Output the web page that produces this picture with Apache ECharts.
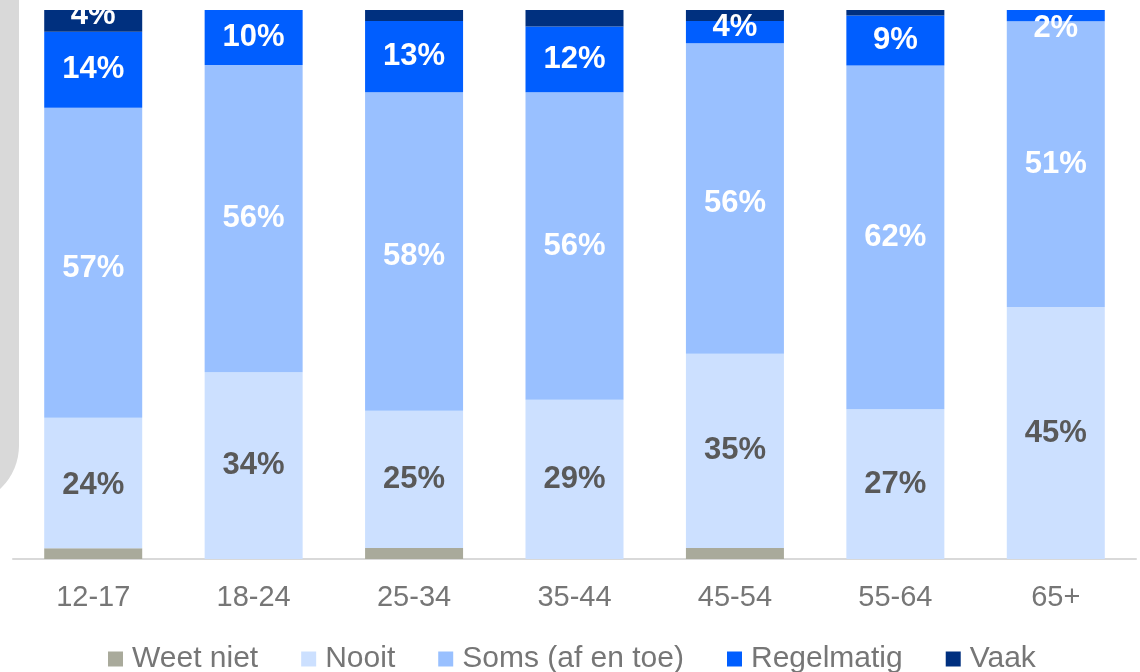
<!DOCTYPE html>
<html>
<head>
<meta charset="utf-8">
<script src="https://cdn.jsdelivr.net/npm/echarts@6/dist/echarts.min.js"></script>
<style>
html,body{margin:0;padding:0;background:#fff;}
#c{width:1140px;height:672px;}
</style>
</head>
<body>
<div id="c"></div>
<script>
const categories = ['12-17','18-24','25-34','35-44','45-54','55-64','65+'];
const weetNiet   = [2, 0, 2, 0, 2, 0, 0];
const nooit      = [24, 34, 25, 29, 35, 27, 45];
const soms       = [57, 56, 58, 56, 56, 62, 51];
const regelmatig = [14, 10, 13, 12, 4, 9, 2];
const vaak       = [4, 0, 2, 3, 2, 1, 0];

const seriesDefs = [
  {name:'Weet niet', data:weetNiet, color:'#a9aa9b', labelColor:'#ffffff', minLabel:Infinity},
  {name:'Nooit', data:nooit, color:'#cce0ff', labelColor:'#595959', minLabel:1},
  {name:'Soms (af en toe)', data:soms, color:'#99c0ff', labelColor:'#ffffff', minLabel:1},
  {name:'Regelmatig', data:regelmatig, color:'#005eff', labelColor:'#ffffff', minLabel:1},
  {name:'Vaak', data:vaak, color:'#00307f', labelColor:'#ffffff', minLabel:4}
];
const labelOffsets = {'Vaak|0':[0,-5], 'Regelmatig|4':[0,-5], 'Regelmatig|6':[0,13], 'Soms (af en toe)|0':[0,6], 'Soms (af en toe)|2':[0,5], 'Soms (af en toe)|4':[0,5], 'Nooit|0':[0,3]};

const totals = categories.map((c,i)=>seriesDefs.reduce((s,d)=>s+d.data[i],0));

const series = seriesDefs.map(d=>({
  name:d.name,
  type:'bar',
  stack:'total',
  barWidth:98,
  itemStyle:{color:d.color},
  label:{
    show:true,
    position:'inside',
    color:d.labelColor,
    fontSize:31,
    fontWeight:'bold',
    fontFamily:'Liberation Sans, Arial, sans-serif',
    formatter:p=>p.data.raw+'%'
  },
  data:d.data.map((v,i)=>({
    value:v/totals[i]*100,
    raw:v,
    label:{show: v>=d.minLabel, offset: labelOffsets[d.name+'|'+i] || [0,0]}
  }))
}));

const chart = echarts.init(document.getElementById('c'));
chart.setOption({
  animation:false,
  graphic:[{
    type:'rect', z:-10,
    shape:{x:-100, y:-100, width:119, height:605, r:65},
    style:{fill:'#d9d9d9'}
  }],
  grid:{left:13, right:4, top:10, bottom:113, containLabel:false},
  xAxis:{
    type:'category',
    data:categories,
    axisLine:{lineStyle:{color:'#d9d9d9', width:2}},
    axisTick:{show:false},
    axisLabel:{color:'#767676', fontSize:29, margin:24, fontFamily:'Liberation Sans, Arial, sans-serif'}
  },
  yAxis:{type:'value', min:0, max:100, show:false, splitLine:{show:false}},
  legend:{
    left:108, top:644, padding:0,
    itemWidth:15, itemHeight:15, itemGap:43,
    icon:'rect',
    textStyle:{color:'#767676', fontSize:30, lineHeight:30, padding:[0,0,0,4], fontFamily:'Liberation Sans, Arial, sans-serif'},
    data:seriesDefs.map(d=>d.name)
  },
  series:series
});
</script>
</body>
</html>
